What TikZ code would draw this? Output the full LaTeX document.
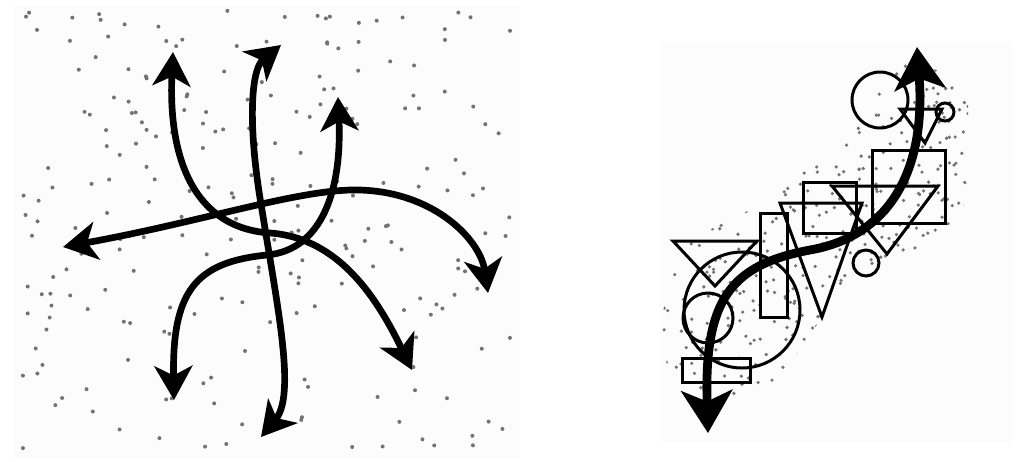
\documentclass[tikz,border=0pt]{standalone}
\usetikzlibrary{arrows.meta}

\begin{document}
\begin{tikzpicture}[
  x=0.02cm, y=-0.02cm,
  panel/.style={fill=black!1, draw=none},
  speck/.style={fill=black!55},
  flow/.style={line width=3.8pt, line cap=round},
  twist/.style={line width=5pt, line cap=round},
  outline/.style={draw=black, line width=1.7pt, line join=miter}
]
\useasboundingbox (0,0) rectangle (1028,461);

% Left: scattered field with four crossing arrows
\fill[panel] (13,5) rectangle (520,458);
\pgfmathsetseed{11}
\foreach \i in {1,...,240} {
  \fill[speck] ({20+495*rnd},{10+440*rnd}) circle[radius=2];
}
\begin{scope}[>={Stealth[length=0.68cm, width=0.76cm, inset=0.19cm]}]
  \coordinate (aW) at (63,247);
  \coordinate (aE) at (488,293);
  \coordinate (bN) at (173,52);
  \coordinate (bS) at (412,370);
  \coordinate (cN) at (281,45);
  \coordinate (cS) at (261,437);
  \coordinate (dN) at (338,97);
  \coordinate (dS) at (174,400);
  \draw[flow, <->] (aW) .. controls (200,222) and (290,192) .. (350,190)
    .. controls (430,188) and (480,238) .. (aE);
  \draw[flow, <->] (bN) .. controls (168,160) and (195,228) .. (270,233)
    .. controls (340,238) and (378,300) .. (bS);
  \draw[flow, <->] (cN) .. controls (250,70) and (248,130) .. (262,210)
    .. controls (278,310) and (296,395) .. (cS);
  \draw[flow, <->] (dN) .. controls (342,190) and (322,250) .. (267,255)
    .. controls (195,262) and (172,292) .. (dS);
\end{scope}

% Right: stacked shapes along one S-shaped arrow
\fill[panel] (660,42) rectangle (1013,442);
\begin{scope}
  \clip (665,285) -- (690,240) -- (725,222) -- (770,200) -- (805,168)
    -- (840,148) -- (855,120) -- (870,70) -- (905,62) -- (945,72)
    -- (968,95) -- (968,170) -- (962,225) -- (930,240) -- (895,262)
    -- (850,282) -- (820,320) -- (800,350) -- (770,385) -- (745,400)
    -- (700,400) -- (672,390) -- (662,340) -- cycle;
  \foreach \i in {1,...,600} {
    \fill[speck] ({660+310*rnd},{55+350*rnd}) circle[radius=1.8];
  }
\end{scope}
% circles
\draw[outline] (880,100) circle[radius=28];
\draw[outline] (945,112) circle[radius=9];
\draw[outline] (866,263) circle[radius=13];
\draw[outline] (742,310) circle[radius=58];
\draw[outline] (708,318) circle[radius=25];
% rectangles
\draw[outline] (872,150) rectangle (945,223);
\draw[outline] (803,182) rectangle (856,233);
\draw[outline] (760,213) rectangle (787,317);
\draw[outline] (682,358) rectangle (750,382);
% downward triangles
\draw[outline] (900,109) -- (942,109) -- (925,143) -- cycle;
\draw[outline] (832,186) -- (938,186) -- (887,254) -- cycle;
\draw[outline] (780,203) -- (862,203) -- (822,317) -- cycle;
\draw[outline] (673,241) -- (757,241) -- (715,286) -- cycle;
\begin{scope}[>={Stealth[length=0.85cm, width=1.02cm, inset=0.22cm]}]
  \coordinate (sN) at (917,47);
  \coordinate (sS) at (708,433);
  \draw[twist, <->] (sN) .. controls (926,170) and (890,236) .. (810,250)
    .. controls (730,265) and (704,300) .. (sS);
\end{scope}
\end{tikzpicture}
\end{document}
